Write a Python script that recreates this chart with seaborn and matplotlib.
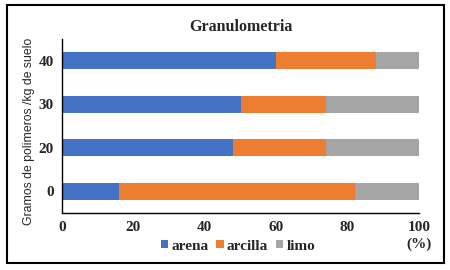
import matplotlib
matplotlib.use("Agg")
import matplotlib.pyplot as plt
from matplotlib.patches import Rectangle
import numpy as np
import pandas as pd
import seaborn as sns

# data (percent of each fraction)
dosis = ["40", "30", "20", "0"]
arena = [60, 50, 48, 16]
arcilla = [28, 24, 26, 66]
limo = [12, 26, 26, 18]

colores = {"arena": "#4472C4", "arcilla": "#ED7D31", "limo": "#A5A5A5"}

sns.set_theme(style="white")
plt.rcParams["font.family"] = ["Liberation Serif", "DejaVu Serif"]

df = pd.DataFrame({"dosis": dosis, "arena": arena, "arcilla": arcilla, "limo": limo})
df["c_arena"] = df["arena"]
df["c_arcilla"] = df["arena"] + df["arcilla"]
df["c_limo"] = df["c_arcilla"] + df["limo"]

fig = plt.figure(figsize=(4.5, 2.7), dpi=100)
ax = fig.add_axes([62 / 450, 1 - 213 / 270, (419 - 62) / 450, (213 - 39) / 270])

# stacked bars: draw cumulative totals from the back to the front
for col, name in [("c_limo", "limo"), ("c_arcilla", "arcilla"), ("c_arena", "arena")]:
    sns.barplot(data=df, x=col, y="dosis", order=dosis, orient="h", ax=ax,
                color=colores[name], width=0.39, linewidth=0, saturation=1,
                label=name)

ax.set_xlim(0, 100)
ax.set_ylim(3.5, -0.5)
ax.set_xticks([0, 20, 40, 60, 80, 100])
ax.set_xlabel("")
ax.set_ylabel("Gramos de polimeros /kg de suelo", fontsize=8.8,
              family=["Liberation Sans", "DejaVu Sans"])
ax.yaxis.set_label_coords(-0.075, 0.47)
ax.set_title("Granulometria", fontsize=11.5, fontweight="bold", pad=6)

for s in ["top", "right"]:
    ax.spines[s].set_visible(False)
for s in ["left", "bottom"]:
    ax.spines[s].set_color("black")
    ax.spines[s].set_linewidth(1.0)

ax.tick_params(axis="y", which="major", length=0, labelsize=11, pad=6)
ax.set_yticks(np.arange(-0.5, 4, 1), minor=True)
ax.tick_params(axis="y", which="minor", length=3, direction="out", color="black", width=1)
ax.tick_params(axis="x", length=3, direction="in", color="black", width=0.8, labelsize=11, pad=6)
for lab in ax.get_xticklabels() + ax.get_yticklabels():
    lab.set_fontweight("bold")

handles, labels = ax.get_legend_handles_labels()
order = ["arena", "arcilla", "limo"]
by_label = dict(zip(labels, handles))
fig.legend([by_label[k] for k in order], order, loc="center", bbox_to_anchor=(238 / 450, 1 - 246 / 270),
           ncol=3, frameon=False, handlelength=0.5, handleheight=0.5, handletextpad=0.2,
           columnspacing=0.5, prop={"weight": "bold", "size": 11})
if ax.legend_:
    ax.legend_.remove()

fig.text(419 / 450, 1 - 244 / 270, "(%)", ha="center", va="center", fontsize=11, fontweight="bold")

fig.patches.append(Rectangle((7 / 450, 1 - 263 / 270), 437 / 450, 258 / 270,
                             transform=fig.transFigure, fill=False, edgecolor="black", linewidth=1.5))

fig.savefig("out.png", dpi=100)
